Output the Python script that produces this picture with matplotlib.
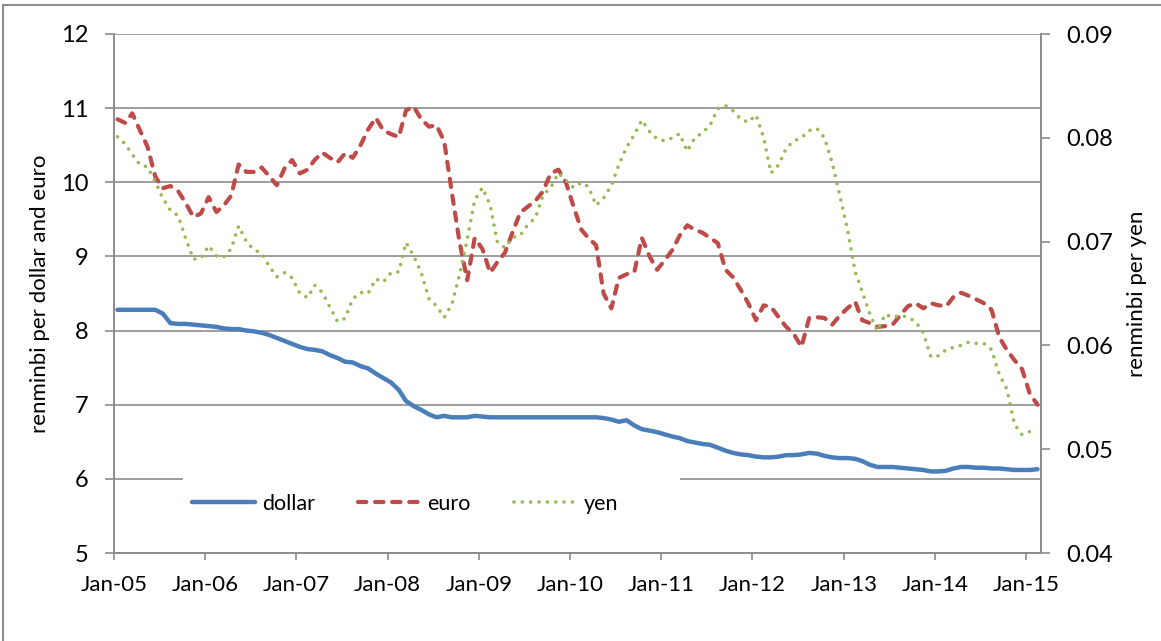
import numpy as np
import pandas as pd
import matplotlib as mpl

mpl.use("Agg")
from matplotlib import pyplot as plt
import matplotlib.dates as mdates
from matplotlib.patches import Rectangle

plt.rcParams['font.family'] = ['Lato', 'DejaVu Sans']

# monthly averages, Jan-05 .. Feb-15 (points sit mid-month)
months = pd.date_range("2005-01-01", "2015-02-01", freq="MS") + pd.Timedelta(days=14)

dollar = [
    8.28, 8.28, 8.28, 8.28, 8.28, 8.28, 8.23, 8.10, 8.09, 8.09, 8.08, 8.07,
    8.06, 8.05, 8.03, 8.02, 8.02, 8.00, 7.99, 7.97, 7.94, 7.90, 7.86, 7.82,
    7.78, 7.75, 7.74, 7.72, 7.67, 7.63, 7.58, 7.57, 7.52, 7.49, 7.42, 7.36,
    7.30, 7.20, 7.05, 6.98, 6.93, 6.87, 6.83, 6.85, 6.83, 6.83, 6.83, 6.85,
    6.84, 6.83, 6.83, 6.83, 6.83, 6.83, 6.83, 6.83, 6.83, 6.83, 6.83, 6.83,
    6.83, 6.83, 6.83, 6.83, 6.82, 6.80, 6.77, 6.79, 6.72, 6.67, 6.65, 6.63,
    6.60, 6.57, 6.55, 6.51, 6.49, 6.47, 6.46, 6.42, 6.38, 6.35, 6.33, 6.32,
    6.30, 6.29, 6.29, 6.30, 6.32, 6.32, 6.33, 6.35, 6.34, 6.31, 6.29, 6.28,
    6.28, 6.27, 6.24, 6.19, 6.16, 6.16, 6.16, 6.15, 6.14, 6.13, 6.12, 6.10,
    6.10, 6.11, 6.14, 6.16, 6.16, 6.15, 6.15, 6.14, 6.14, 6.13, 6.12, 6.12,
    6.12, 6.13,
]

euro = [
    10.85, 10.80, 10.93, 10.70, 10.48, 10.08, 9.92, 9.95, 9.88, 9.72, 9.53, 9.58,
    9.80, 9.60, 9.68, 9.82, 10.24, 10.14, 10.14, 10.20, 10.08, 9.96, 10.19, 10.30,
    10.12, 10.17, 10.30, 10.40, 10.33, 10.27, 10.39, 10.33, 10.50, 10.71, 10.87, 10.70,
    10.65, 10.61, 10.97, 11.02, 10.85, 10.75, 10.77, 10.55, 9.85, 9.20, 8.68, 9.25,
    9.10, 8.78, 8.92, 9.05, 9.32, 9.59, 9.67, 9.75, 9.88, 10.12, 10.17, 10.00,
    9.67, 9.36, 9.25, 9.15, 8.50, 8.30, 8.71, 8.76, 8.79, 9.25, 9.00, 8.82,
    8.95, 9.09, 9.28, 9.42, 9.36, 9.32, 9.25, 9.18, 8.82, 8.72, 8.55, 8.37,
    8.14, 8.34, 8.32, 8.18, 8.05, 7.95, 7.78, 8.17, 8.18, 8.17, 8.08, 8.20,
    8.30, 8.39, 8.14, 8.10, 8.05, 8.06, 8.08, 8.21, 8.33, 8.37, 8.30, 8.37,
    8.34, 8.33, 8.45, 8.51, 8.47, 8.42, 8.37, 8.28, 7.91, 7.74, 7.60, 7.48,
    7.15, 7.00,
]

yen = [
    0.0801, 0.0794, 0.0784, 0.0774, 0.0772, 0.0758, 0.0742, 0.0730, 0.0725, 0.0703, 0.0683, 0.0684,
    0.0696, 0.0686, 0.0685, 0.0693, 0.0715, 0.0700, 0.0692, 0.0689, 0.0676, 0.0666, 0.0670, 0.0665,
    0.0650, 0.0646, 0.0658, 0.0651, 0.0637, 0.0623, 0.0626, 0.0645, 0.0651, 0.0650, 0.0664, 0.0661,
    0.0670, 0.0671, 0.0699, 0.0686, 0.0670, 0.0645, 0.0638, 0.0627, 0.0640, 0.0668, 0.0702, 0.0740,
    0.0752, 0.0735, 0.0700, 0.0694, 0.0704, 0.0706, 0.0716, 0.0723, 0.0745, 0.0752, 0.0766, 0.0759,
    0.0752, 0.0757, 0.0753, 0.0735, 0.0742, 0.0754, 0.0774, 0.0791, 0.0803, 0.0817, 0.0806, 0.0799,
    0.0797, 0.0800, 0.0804, 0.0787, 0.0800, 0.0805, 0.0812, 0.0828, 0.0831, 0.0826, 0.0818, 0.0815,
    0.0822, 0.0800, 0.0766, 0.0774, 0.0790, 0.0797, 0.0800, 0.0807, 0.0809, 0.0800, 0.0776, 0.0745,
    0.0712, 0.0671, 0.0652, 0.0630, 0.0614, 0.0630, 0.0627, 0.0629, 0.0627, 0.0623, 0.0612, 0.0589,
    0.0590, 0.0596, 0.0598, 0.0600, 0.0603, 0.0602, 0.0602, 0.0596, 0.0572, 0.0558, 0.0524, 0.0514,
    0.0517, 0.0518,
]

left_ticks = [5, 6, 7, 8, 9, 10, 11, 12]
right_ticks = [0.04, 0.05, 0.06, 0.07, 0.08, 0.09]
year_ticks = pd.date_range("2005-01-01", "2015-01-01", freq="YS")

c_dollar = '#4a7ebb'
c_euro = '#be4b48'
c_yen = '#98b954'
c_axis = '#8c8c8c'

fig = plt.figure(figsize=(11.61, 6.41), dpi=100)
# outer chart border (partly cut off like the screenshot)
fig.patches.append(Rectangle((3 / 1161, -0.05), 1.1, 1 - 5 / 641 + 0.05,
                             transform=fig.transFigure, fill=False,
                             edgecolor='#8c8c8c', linewidth=1.5))

ax = fig.add_axes([114 / 1161, 1 - 553 / 641, 927 / 1161, 519 / 641])
ax2 = ax.twinx()

l1, = ax.plot(months, dollar, color=c_dollar, lw=3.2, solid_capstyle='round',
              label='dollar', zorder=3)
l2, = ax.plot(months, euro, color=c_euro, lw=3.0, dashes=(2.0, 2.1),
              dash_capstyle='round', label='euro', zorder=3)
l3, = ax2.plot(months, yen, color=c_yen, lw=2.6, dashes=(0.01, 2.3),
               dash_capstyle='round', label='yen')

ax.set_ylim(5, 12)
ax2.set_ylim(0.04, 0.09)
ax.set_xlim(pd.Timestamp("2005-01-01"), pd.Timestamp("2015-03-01"))
ax.set_yticks(left_ticks)
ax2.set_yticks(right_ticks)
ax2.set_yticklabels([f"{t:.2f}" for t in right_ticks])
ax.set_xticks(year_ticks)
ax.xaxis.set_major_formatter(mdates.DateFormatter('%b-%y'))

ax.grid(axis='y', color=c_axis, lw=1.2)
ax.set_axisbelow(True)

for a in (ax, ax2):
    a.spines['top'].set_visible(False)
    for s in ('left', 'right', 'bottom'):
        a.spines[s].set_color(c_axis)
        a.spines[s].set_linewidth(1.2)
    a.tick_params(colors=c_axis, labelcolor='black', width=1.2, length=6.5,
                  labelsize=17, pad=12)
ax.tick_params(axis='x', length=5, pad=11, labelsize=16)

ax.set_ylabel("renminbi per dollar and euro", fontsize=16, labelpad=8)
ax2.set_ylabel("renminbi per yen", fontsize=16, labelpad=10)

# white patch behind the legend hides part of the 6 gridline
ax2.add_patch(Rectangle((0.0744, 0.044), 0.536, 0.104, transform=ax2.transAxes,
                        facecolor='white', edgecolor='none', zorder=4))
leg = ax2.legend(handles=[l1, l2, l3], loc='center', ncol=3,
                 bbox_to_anchor=(0.314, 0.095), frameon=False, fontsize=15.5,
                 handlelength=2.9, columnspacing=2.0, handletextpad=0.33)
leg.set_zorder(5)

fig.savefig("out.png", dpi=100)
